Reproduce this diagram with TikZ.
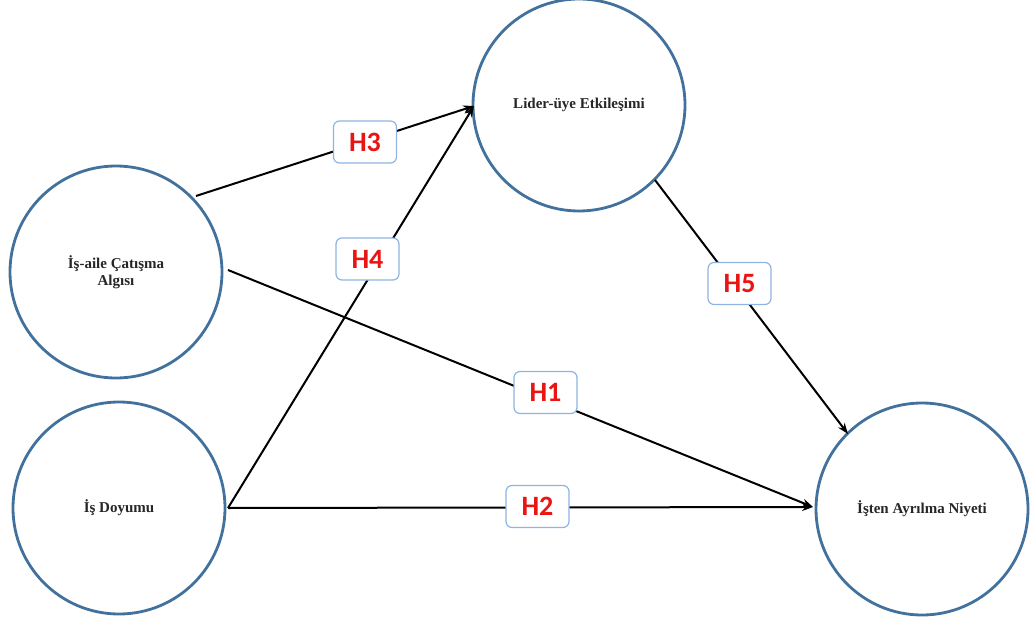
\documentclass[tikz,border=0pt]{standalone}
\usepackage{fontspec}
\setmainfont{Liberation Serif}
\newfontfamily\labelfont{Carlito}
\usetikzlibrary{arrows.meta}
\definecolor{ringblue}{RGB}{65,113,156}
\definecolor{tagblue}{RGB}{142,180,227}
\definecolor{tagred}{RGB}{235,20,20}
\begin{document}
\begin{tikzpicture}[x=1pt,y=-1pt,
  construct/.style={circle,draw=ringblue,line width=2.8pt,minimum size=212pt,inner sep=0pt,
    font=\bfseries\fontsize{15}{17}\selectfont,align=center,text=black!85},
  path/.style={line width=2pt,-{Stealth[length=11pt,width=8pt]}},
  tag/.style={draw=tagblue,fill=white,line width=1.2pt,rounded corners=6pt,
    minimum width=63pt,minimum height=42pt,inner sep=0pt,
    font=\labelfont\bfseries\fontsize{28}{30}\selectfont,text=tagred}]
\useasboundingbox (0,0) rectangle (1032,620);
% constructs
\node[construct] (iac) at (116,272) {İş-aile Çatışma\\Algısı};
\node[construct] (id) at (119,508) {İş Doyumu};
\node[construct] (lue) at (579,105) {Lider-üye Etkileşimi};
\node[construct] (ian) at (922,509) {İşten Ayrılma Niyeti};

% connector end points on the rings
\coordinate (s3) at (196,196);
\coordinate (s1) at (228,270);
\coordinate (s24) at (228,508);
\coordinate (s5) at (655,180);
\coordinate (t34) at (474,106);
\coordinate (t5) at (848,434);
\coordinate (t12) at (813,507);

\draw[path] (s3) -- (t34);
\draw[path] (s24) -- (t34);
\draw[path] (s5) -- (t5);
\draw[path] (s1) -- (t12);
\draw[path] (s24) -- (t12);

% hypothesis tags
\node[tag] (h3) at (365,142) {H3};
\node[tag] (h4) at (367.5,259) {H4};
\node[tag] (h5) at (739.5,283.5) {H5};
\node[tag] (h1) at (545.5,392.5) {H1};
\node[tag] (h2) at (537.5,506.5) {H2};
\end{tikzpicture}
\end{document}
